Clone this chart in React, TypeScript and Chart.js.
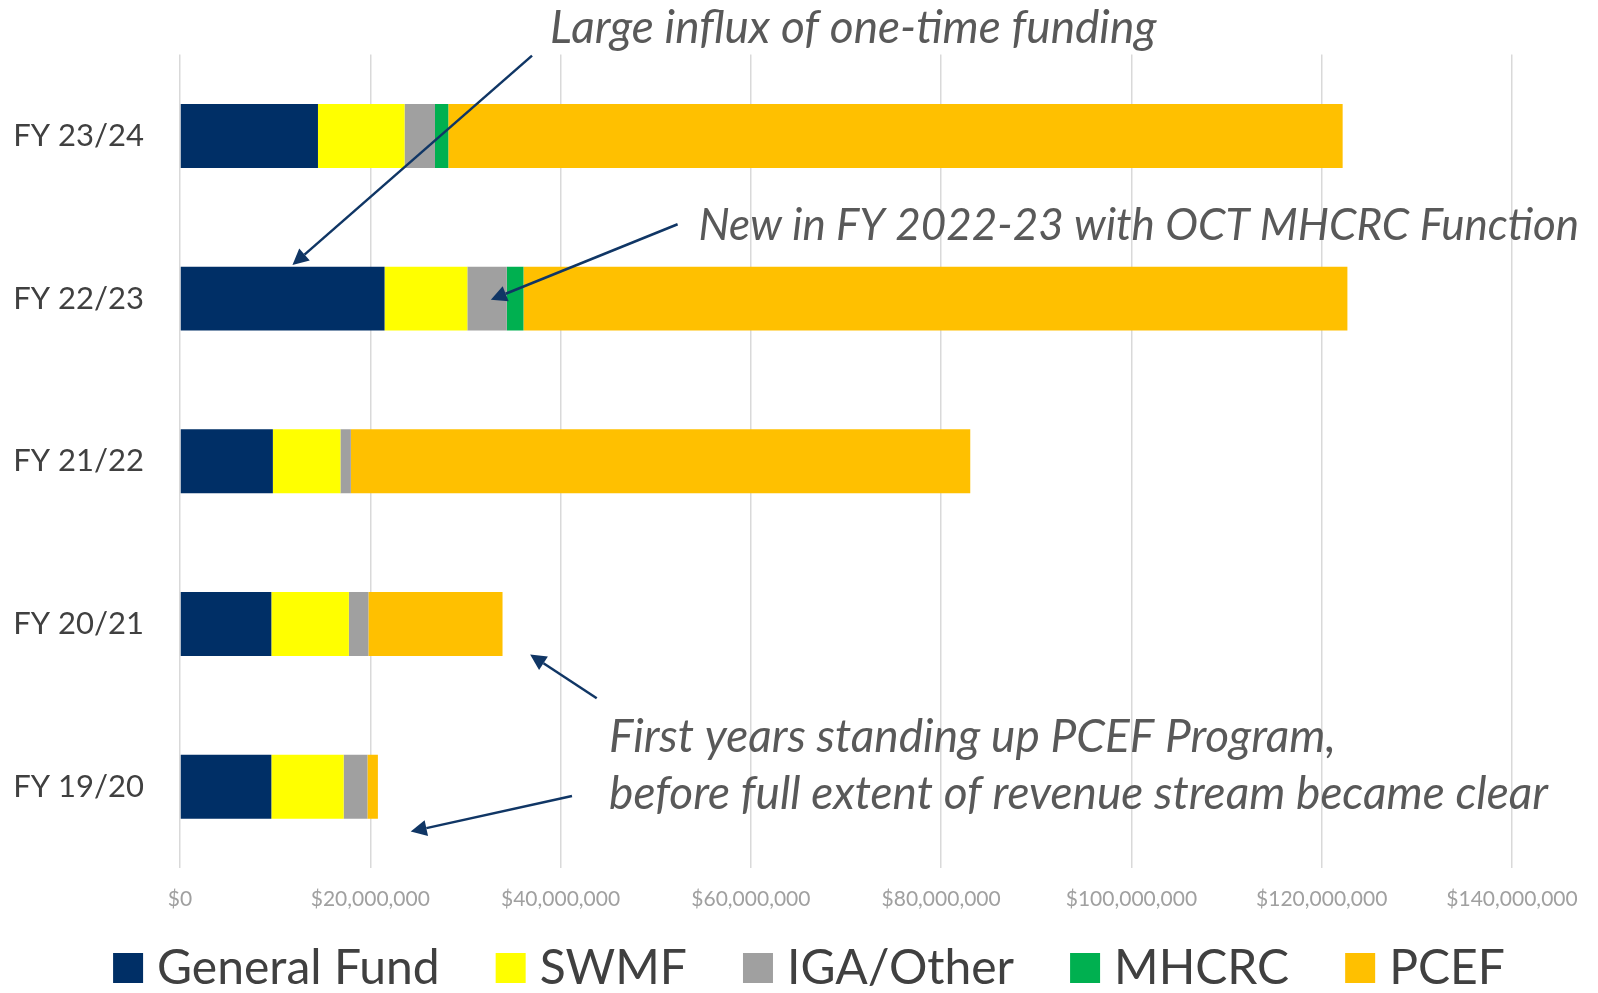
import React, { useEffect, useRef } from 'react';
import { Chart, registerables } from 'chart.js';
Chart.register(...registerables);

// ---- data ----
const categories = ['FY 23/24', 'FY 22/23', 'FY 21/22', 'FY 20/21', 'FY 19/20'];
const generalFund = [14500000, 21500000, 9760000, 9600000, 9600000];
const swmf = [9100000, 8700000, 7100000, 8150000, 7600000];
const igaOther = [3200000, 4150000, 1100000, 2050000, 2500000];
const mhcrc = [1400000, 1750000, 0, 0, 0];
const pcef = [94000000, 86600000, 65100000, 14100000, 1100000];
const seriesNames = ['General Fund', 'SWMF', 'IGA/Other', 'MHCRC', 'PCEF'];
const seriesColors = ['#002F66', '#FFFF00', '#A0A0A0', '#00B050', '#FFC000'];
const xMin = 0;
const xMax = 140000000;
const xStep = 20000000;

// ---- annotations (anchored in data space: [dollars, category index]) ----
const noteTexts = [
  'Large influx of one-time funding',
  'New in FY 2022-23 with OCT MHCRC Function',
  'First years standing up PCEF Program,',
  'before full extent of revenue stream became clear',
];
const noteAnchors: [number, number][] = [
  [38900000, -0.663],
  [54500000, 0.555],
  [45100000, 3.696],
  [45100000, 4.046],
];
const noteSizes = [46, 44, 46, 46];
const arrowLines: [number, number, number, number][] = [
  [37000000, -0.494, 11820000, 0.794],
  [52300000, 0.543, 32670000, 1.007],
  [43800000, 3.457, 36800000, 3.187],
  [41200000, 4.058, 24250000, 4.276],
];

const FONT = 'Lato, "Open Sans", "Noto Sans", sans-serif';

const overlayPlugin = {
  id: 'overlay',
  afterDraw(chart: any) {
    const ctx = chart.ctx;
    const xs = chart.scales.x;
    const ys = chart.scales.y;
    ctx.save();
    // arrows
    ctx.strokeStyle = '#103665';
    ctx.fillStyle = '#103665';
    ctx.lineWidth = 2.5;
    for (const [fx, fy, tx, ty] of arrowLines) {
      const x1 = xs.getPixelForValue(fx);
      const y1 = ys.getPixelForValue(fy);
      const x2 = xs.getPixelForValue(tx);
      const y2 = ys.getPixelForValue(ty);
      const ang = Math.atan2(y2 - y1, x2 - x1);
      const headLen = 16;
      const headW = 8;
      const bx = x2 - headLen * Math.cos(ang);
      const by = y2 - headLen * Math.sin(ang);
      ctx.beginPath();
      ctx.moveTo(x1, y1);
      ctx.lineTo(bx, by);
      ctx.stroke();
      ctx.beginPath();
      ctx.moveTo(x2, y2);
      ctx.lineTo(bx + headW * Math.sin(ang), by - headW * Math.cos(ang));
      ctx.lineTo(bx - headW * Math.sin(ang), by + headW * Math.cos(ang));
      ctx.closePath();
      ctx.fill();
    }
    // notes
    ctx.fillStyle = '#595959';
    ctx.textAlign = 'left';
    ctx.textBaseline = 'middle';
    noteTexts.forEach((t, i) => {
      const [vx, vy] = noteAnchors[i];
      ctx.font = 'italic ' + noteSizes[i] + 'px ' + FONT;
      ctx.fillText(t, xs.getPixelForValue(vx), ys.getPixelForValue(vy));
    });
    // legend
    ctx.font = '48px ' + FONT;
    const box = 30;
    const gap = 14;
    const itemGap = 56;
    const widths = seriesNames.map((n) => ctx.measureText(n).width);
    const total = widths.reduce((a, w) => a + box + gap + w, 0) + itemGap * (seriesNames.length - 1);
    let x = (chart.width - total) / 2 + 10;
    const cy = chart.height - 25;
    seriesNames.forEach((n, i) => {
      ctx.fillStyle = seriesColors[i];
      ctx.fillRect(x, cy - box / 2, box, box);
      ctx.fillStyle = '#404040';
      ctx.fillText(n, x + box + gap, cy + 1);
      x += box + gap + widths[i] + itemGap;
    });
    ctx.restore();
  },
};

export default function App() {
  const ref = useRef<HTMLCanvasElement>(null);
  useEffect(() => {
    document.body.style.margin = '0';
    const series = [generalFund, swmf, igaOther, mhcrc, pcef];
    const chart = new Chart(ref.current!, {
      type: 'bar',
      data: {
        labels: categories,
        datasets: series.map((d, i) => ({
          label: seriesNames[i],
          data: d,
          backgroundColor: seriesColors[i],
          borderWidth: 0,
          barPercentage: 0.393,
          categoryPercentage: 1,
        })),
      },
      options: {
        indexAxis: 'y',
        animation: false,
        responsive: false,
        layout: { padding: { top: 52, right: 86, bottom: 0, left: 0 } },
        plugins: { legend: { display: false }, tooltip: { enabled: false } },
        scales: {
          x: {
            stacked: true,
            min: xMin,
            max: xMax,
            ticks: {
              stepSize: xStep,
              padding: 19,
              color: '#a0a0a0',
              font: { family: FONT, size: 21 },
              callback: (v: any) => '$' + Number(v).toLocaleString('en-US'),
            },
            grid: { color: '#D9D9D9', lineWidth: 1.5, drawTicks: false },
            border: { display: false },
            afterFit: (s: any) => { s.height = 125; },
          },
          y: {
            stacked: true,
            ticks: {
              padding: 36,
              color: '#404040',
              font: { family: FONT, size: 31 },
            },
            grid: { display: false, drawTicks: false },
            border: { display: false },
            afterFit: (s: any) => { s.width = 180; },
          },
        },
      },
      plugins: [overlayPlugin],
    });
    (document as any).fonts?.load?.('italic 46px Lato').then(() => chart.update()).catch(() => {});
    return () => chart.destroy();
  }, []);
  return (
    <div style={{ position: 'absolute', left: 0, top: 0, width: 1598, height: 993 }}>
      <canvas ref={ref} width={1598} height={993} style={{ display: 'block' }} />
    </div>
  );
}
